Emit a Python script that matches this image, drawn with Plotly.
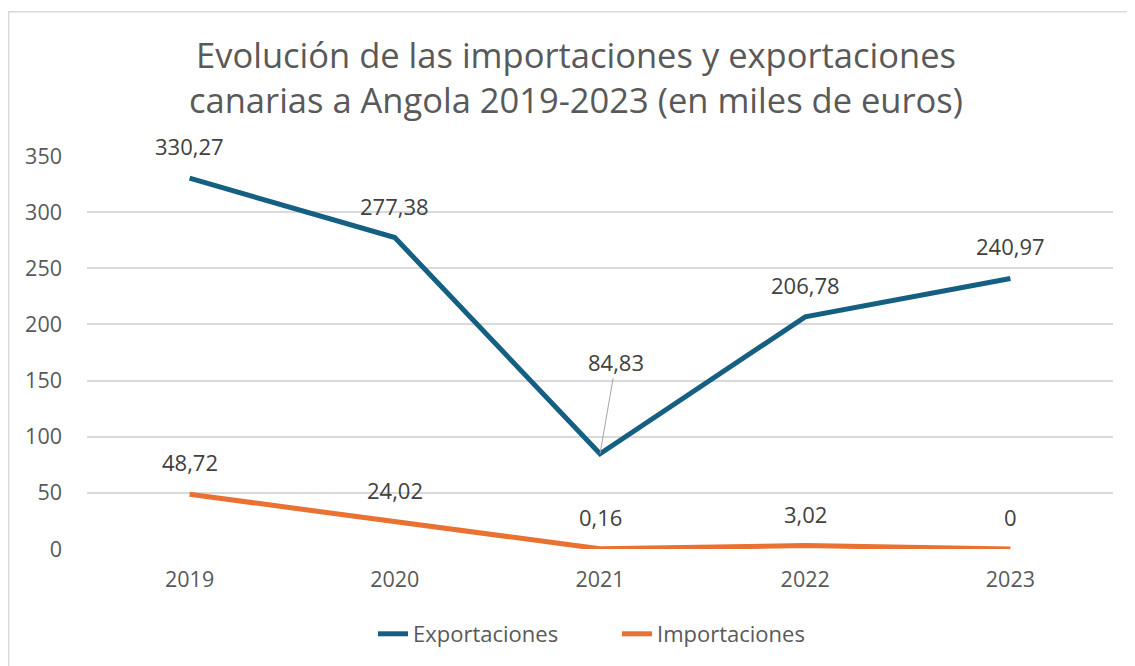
import plotly.graph_objects as go

years = ["2019", "2020", "2021", "2022", "2023"]
exportaciones = [330.27, 277.38, 84.83, 206.78, 240.97]
importaciones = [48.72, 24.02, 0.16, 3.02, 0]
y_ticks = [0, 50, 100, 150, 200, 250, 300, 350]

BLUE = "#156082"
ORANGE = "#E97132"
TEXT = "#595959"
LABEL = "#404040"
FONT = "Open Sans"

# page body adds 8px offset; figure sized so that it fills the window
W, H = 1127, 658
L, R, T, B = 79, 22, 148, 116
PW, PH = W - L - R, H - T - B


def fmt(v):
    return f"{v:g}".replace(".", ",")


fig = go.Figure()
fig.add_trace(go.Scatter(x=years, y=exportaciones, mode="lines", name="Exportaciones",
                         line=dict(color=BLUE, width=5)))
fig.add_trace(go.Scatter(x=years, y=importaciones, mode="lines", name="Importaciones",
                         line=dict(color=ORANGE, width=5)))

annotations = []
for si, series in enumerate((exportaciones, importaciones)):
    for i, v in enumerate(series):
        f = dict(size=22, color=LABEL, family=FONT)
        if si == 0 and i == 2:
            annotations.append(dict(x=i, y=v, xref="x", yref="y", text=fmt(v), showarrow=True,
                                    arrowhead=0, arrowwidth=1, arrowcolor="#A6A6A6",
                                    ax=16, ay=-92, standoff=0, font=f))
        else:
            annotations.append(dict(x=i, y=v, xref="x", yref="y", text=fmt(v), showarrow=False,
                                    yshift=32, font=f))

fig.update_layout(
    width=W, height=H,
    paper_bgcolor="white", plot_bgcolor="white",
    margin=dict(l=L, r=R, t=T, b=B),
    title=dict(text="Evolución de las importaciones y exportaciones<br>canarias a Angola 2019-2023 (en miles de euros)",
               x=(568 - L) / PW, xanchor="center", xref="paper",
               y=1 - 60 / H, yanchor="middle", yref="container",
               font=dict(size=34.5, color=TEXT, family=FONT)),
    font=dict(family=FONT, color=TEXT),
    showlegend=True,
    legend=dict(orientation="h", x=(365 - L) / PW, xanchor="left",
                y=-84 / PH, yanchor="middle", entrywidth=199, entrywidthmode="pixels",
                font=dict(size=22, color=TEXT, family=FONT)),
    annotations=annotations,
    shapes=[dict(type="rect", xref="paper", yref="paper",
                 x0=(0.75 - L) / PW, x1=(W + 20 - L) / PW,
                 y0=(-(H + 20 - (T + PH))) / PH, y1=(T + PH - 3.5) / PH,
                 line=dict(color="#D9D9D9", width=1.5), layer="below")],
)
fig.update_xaxes(type="category", range=[-0.5, 4.5], showgrid=False, showline=False,
                 zeroline=False, ticks="", ticklabelstandoff=15,
                 tickfont=dict(size=21.5, color=TEXT, family=FONT))
fig.update_yaxes(range=[0, 350], tickvals=y_ticks, showgrid=True, gridcolor="#D9D9D9",
                 gridwidth=1.5, zeroline=False, showline=False, ticks="",
                 ticklabelstandoff=24,
                 tickfont=dict(size=21.5, color=TEXT, family=FONT))

fig.write_html("out.html")
